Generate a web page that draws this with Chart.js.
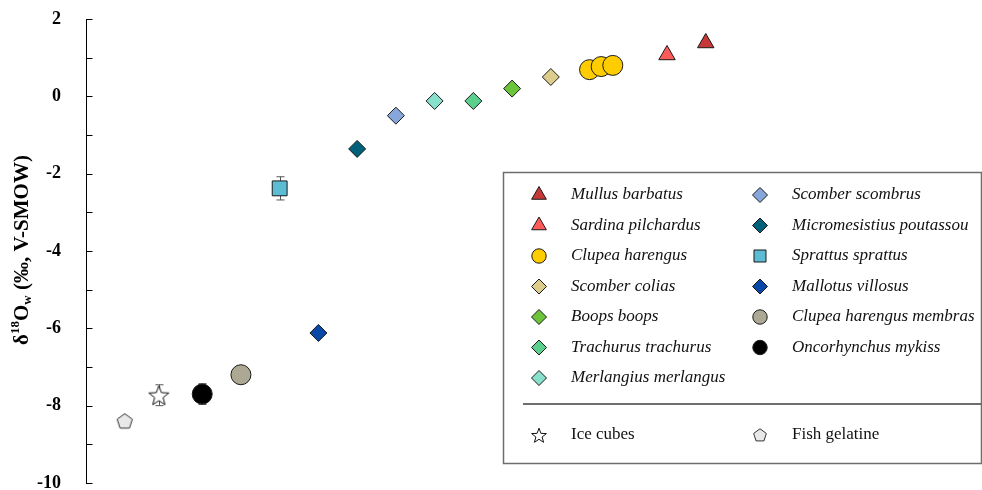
<!DOCTYPE html>
<html>
<head>
<meta charset="utf-8">
<script src="https://cdn.jsdelivr.net/npm/chart.js@4/dist/chart.umd.min.js"></script>
<style>
  html, body { margin: 0; padding: 0; background: #fff; }
</style>
</head>
<body>
<canvas id="chart" width="982" height="490"></canvas>
<script>
// === Data ===
const names = [
    'Mullus barbatus', 'Sardina pilchardus', 'Clupea harengus', 'Scomber colias',
    'Boops boops', 'Trachurus trachurus', 'Merlangius merlangus',
    'Scomber scombrus', 'Micromesistius poutassou', 'Sprattus sprattus', 'Mallotus villosus',
    'Clupea harengus membras', 'Oncorhynchus mykiss',
    'Ice cubes', 'Fish gelatine'
];
const italicNames = [true, true, true, true, true, true, true, true, true, true, true, true, true, false, false];

// rank position along the (hidden) x axis
const xValues = [[15], [14], [12, 12.3, 12.6], [11], [10], [9], [8], [7], [6], [4], [5], [3], [2], [0.88], [0]];
// δ18Ow values (‰)
const yValues = [[1.38], [1.07], [0.69, 0.77, 0.8], [0.5], [0.2], [-0.12], [-0.12], [-0.5], [-1.36], [-2.38], [-6.12], [-7.2], [-7.7], [-7.73], [-8.4]];
const yErrors = [0, 0, 0, 0, 0, 0, 0, 0, 0, 0.3, 0, 0, 0.27, 0.27, 0];

const yMin = -10;
const yMax = 2;

// === Styles ===
const fills = ['#c83737', '#ff5a5a', '#ffcc00', '#dccd8c', '#6cc43a', '#5ccf8c', '#88e0cc',
    '#86a6dc', '#00607a', '#5bbcd4', '#0a48a8', '#aca894', '#000000', '#ffffff', '#e8e8e8'];
const shapes = ['triangle', 'triangle', 'circle', 'rectRot', 'rectRot', 'rectRot', 'rectRot',
    'rectRot', 'rectRot', 'rect', 'rectRot', 'circle', 'circle', 'star', 'pentagon'];
const legendCol1 = [0, 1, 2, 3, 4, 5, 6];
const legendCol2 = [7, 8, 9, 10, 11, 12];
const legendBottom = [13, 14];

const SERIF = "'Liberation Serif', 'Times New Roman', serif";

const plotRadius = { triangle: 9.5, circle: 10, rect: 10.5, rectRot: 8.5, star: 10.5, pentagon: 8 };
const legendRadius = { triangle: 8.5, circle: 7.2, rect: 8.5, rectRot: 7.5, star: 7.8, pentagon: 6.7 };

// star / pentagon are not built into Chart.js, so render them to small canvases
function makeShape(kind, r, fill, stroke) {
    const c = document.createElement('canvas');
    const s = Math.ceil(2 * r + 4);
    c.width = s;
    c.height = s;
    const g = c.getContext('2d');
    g.translate(s / 2, s / 2 + (kind === 'star' ? 1 : 0.5));
    g.beginPath();
    const n = kind === 'star' ? 10 : 5;
    for (let i = 0; i < n; i++) {
        const a = -Math.PI / 2 + i * 2 * Math.PI / n;
        const rr = (kind === 'star' && i % 2) ? r * 0.42 : r;
        const px = Math.cos(a) * rr;
        const py = Math.sin(a) * rr;
        if (i === 0) g.moveTo(px, py); else g.lineTo(px, py);
    }
    g.closePath();
    g.fillStyle = fill;
    g.fill();
    g.lineWidth = 1;
    g.strokeStyle = stroke;
    g.stroke();
    return c;
}

function pointStyleFor(i, radii) {
    const r = radii[shapes[i]];
    if (shapes[i] === 'star') return makeShape('star', r, fills[i], '#111');
    if (shapes[i] === 'pentagon') return makeShape('pentagon', r, fills[i], '#333');
    return shapes[i];
}

const datasets = names.map((name, i) => ({
    label: name,
    data: xValues[i].map((x, k) => ({ x, y: yValues[i][k] })),
    pointStyle: pointStyleFor(i, plotRadius),
    pointRadius: plotRadius[shapes[i]],
    pointHoverRadius: plotRadius[shapes[i]],
    backgroundColor: fills[i],
    borderColor: '#1a1a1a',
    borderWidth: 1,
    order: -i
}));

// === Plugins ===
const errorBarPlugin = {
    id: 'errorBars',
    beforeDatasetsDraw(chart) {
        const { ctx, scales: { x, y } } = chart;
        ctx.save();
        ctx.strokeStyle = '#555';
        ctx.lineWidth = 1;
        names.forEach((n, i) => {
            if (!yErrors[i]) return;
            xValues[i].forEach((xv, k) => {
                const px = Math.round(x.getPixelForValue(xv)) + 0.5;
                const top = y.getPixelForValue(yValues[i][k] + yErrors[i]);
                const bot = y.getPixelForValue(yValues[i][k] - yErrors[i]);
                ctx.beginPath();
                ctx.moveTo(px, top); ctx.lineTo(px, bot);
                ctx.moveTo(px - 4, top); ctx.lineTo(px + 4, top);
                ctx.moveTo(px - 4, bot); ctx.lineTo(px + 4, bot);
                ctx.stroke();
            });
        });
        ctx.restore();
    }
};

const axisDecorPlugin = {
    id: 'axisDecor',
    afterDraw(chart) {
        const { ctx, scales: { y } } = chart;
        const ax = Math.round(y.right) + 0.5;
        ctx.save();
        ctx.strokeStyle = '#000';
        ctx.lineWidth = 1;
        y.ticks.forEach(t => {
            const py = Math.round(y.getPixelForValue(t.value)) + 0.5;
            ctx.beginPath();
            ctx.moveTo(ax, py);
            ctx.lineTo(ax + 6, py);
            ctx.stroke();
        });

        // rotated axis title with super/subscripts
        const parts = [
            { t: 'δ', size: 21, dy: 0 },
            { t: '18', size: 13, dy: -7 },
            { t: 'O', size: 21, dy: 0 },
            { t: 'w', size: 13, dy: 5 },
            { t: ' (‰, V-SMOW)', size: 21, dy: 0 }
        ];
        let total = 0;
        parts.forEach(p => {
            ctx.font = `bold ${p.size}px ${SERIF}`;
            p.w = ctx.measureText(p.t).width;
            total += p.w;
        });
        ctx.translate(23, 250);
        ctx.rotate(-Math.PI / 2);
        ctx.fillStyle = '#000';
        ctx.textBaseline = 'middle';
        let cx = -total / 2;
        parts.forEach(p => {
            ctx.font = `bold ${p.size}px ${SERIF}`;
            ctx.fillText(p.t, cx, p.dy);
            cx += p.w;
        });
        ctx.restore();
    }
};

const legendBoxPlugin = {
    id: 'legendBox',
    afterDraw(chart) {
        const ctx = chart.ctx;
        ctx.save();
        ctx.strokeStyle = '#6e6e6e';
        ctx.lineWidth = 1.5;
        ctx.fillStyle = '#fff';
        ctx.fillRect(503, 172, 478, 291);
        ctx.strokeRect(503.5, 172.5, 478, 291);
        ctx.lineWidth = 2;
        ctx.beginPath();
        ctx.moveTo(523, 404);
        ctx.lineTo(981, 404);
        ctx.stroke();

        const drawItem = (i, mx, my) => {
            ctx.fillStyle = fills[i];
            ctx.strokeStyle = '#1a1a1a';
            ctx.lineWidth = 1;
            Chart.helpers.drawPoint(ctx, {
                pointStyle: pointStyleFor(i, legendRadius),
                radius: legendRadius[shapes[i]],
                borderWidth: 1,
                rotation: 0
            }, mx, my);
            ctx.fillStyle = '#111';
            ctx.font = `${italicNames[i] ? 'italic ' : ''}17px ${SERIF}`;
            ctx.textBaseline = 'middle';
            ctx.textAlign = 'left';
            ctx.fillText(names[i], mx + 32, my);
        };
        legendCol1.forEach((i, r) => drawItem(i, 539, 195 + r * 30.5));
        legendCol2.forEach((i, r) => drawItem(i, 760, 195 + r * 30.5));
        legendBottom.forEach((i, c) => drawItem(i, c === 0 ? 539 : 760, 435));
        ctx.restore();
    }
};

// === Chart ===
const ctx = document.getElementById('chart').getContext('2d');
new Chart(ctx, {
    type: 'scatter',
    data: { datasets },
    options: {
        responsive: false,
        animation: false,
        devicePixelRatio: 1,
        layout: { autoPadding: false, padding: { top: 19, bottom: 7, right: 2, left: 0 } },
        scales: {
            x: {
                type: 'linear',
                min: -1,
                max: 22.08,
                display: false
            },
            y: {
                min: yMin,
                max: yMax,
                grid: { display: false, drawTicks: false },
                border: { display: true, color: '#000', width: 1 },
                ticks: {
                    stepSize: 1,
                    padding: 25,
                    color: '#000',
                    font: { family: SERIF, size: 18, weight: 'bold' },
                    callback: v => (v % 2 === 0 ? String(v) : '')
                },
                afterFit(scale) {
                    scale.width = 86;
                    scale.paddingTop = 0;
                    scale.paddingBottom = 0;
                }
            }
        },
        plugins: {
            legend: { display: false },
            tooltip: { enabled: false }
        }
    },
    plugins: [errorBarPlugin, axisDecorPlugin, legendBoxPlugin]
});
</script>
</body>
</html>
